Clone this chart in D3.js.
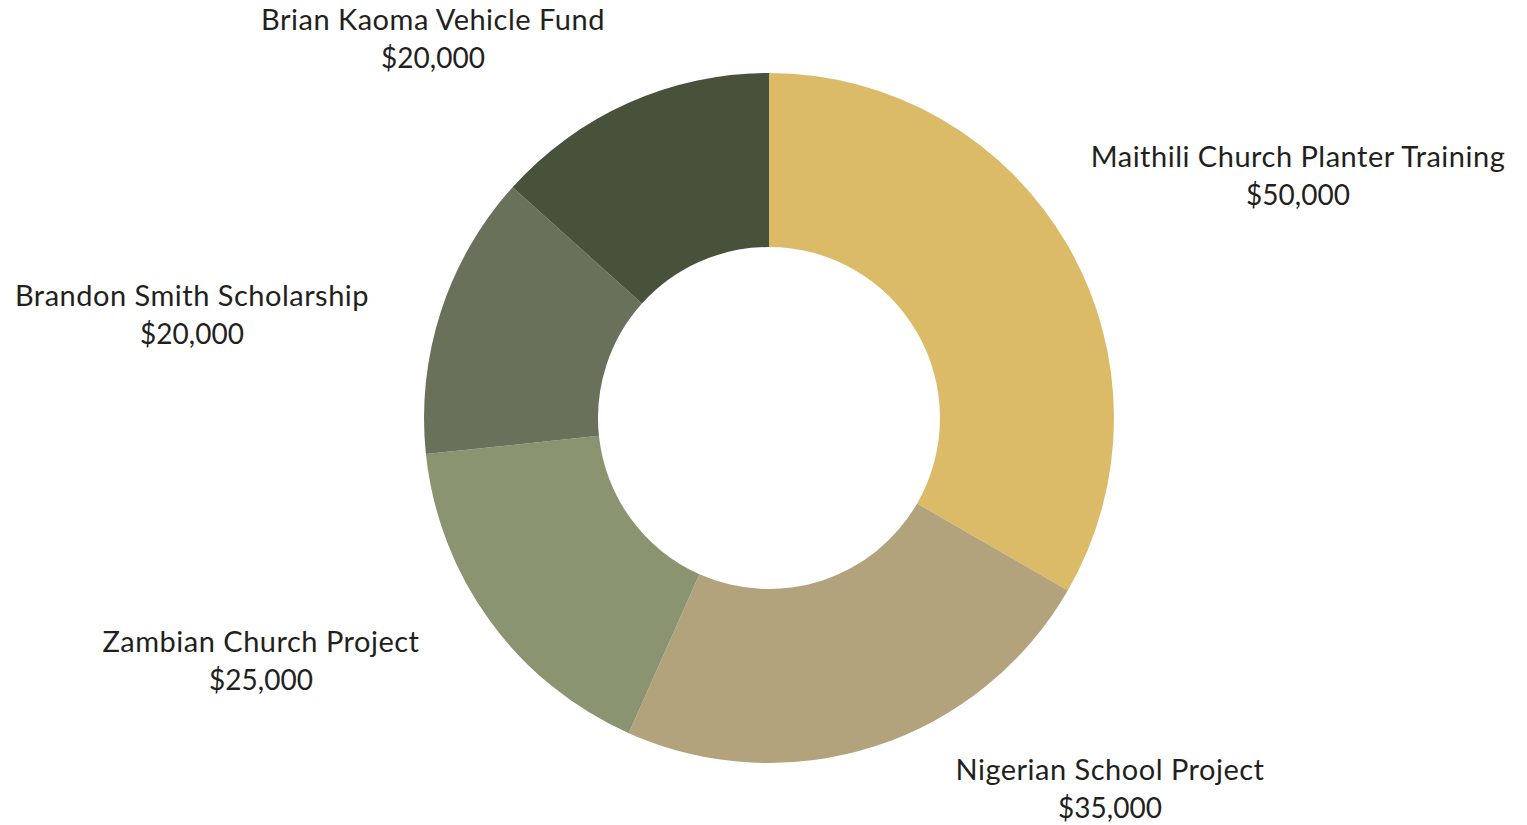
<!DOCTYPE html>
<html>
<head>
<meta charset="utf-8">
<script src="https://cdn.jsdelivr.net/npm/d3@7"></script>
<style>
    html, body { margin: 0; padding: 0; background: #fff; }
    text { font-family: "Lato", "Open Sans", sans-serif; fill: #231f20; }
</style>
</head>
<body>
<svg id="chart" width="1527" height="825"></svg>
<script>
const projects = ["Maithili Church Planter Training", "Nigerian School Project", "Zambian Church Project", "Brandon Smith Scholarship", "Brian Kaoma Vehicle Fund"]
const amounts = [50000, 35000, 25000, 20000, 20000]
const colors = ["#dbbb67", "#b2a37d", "#8a9470", "#6a715a", "#48523b"]

// label anchors (centre x, first baseline y)
const labelSpots = [[1298, 167], [1110, 780], [261, 652], [192, 306], [433, 30]]

const cx = 769
const cy = 418
const outerRadius = 345
const innerRadius = 171

const svg = d3.select("#chart")

const createPie = d3.pie().value(d => d).sort(null)
const createArc = d3.arc().innerRadius(innerRadius).outerRadius(outerRadius)

const g = svg.append("g").attr("transform", `translate(${cx}, ${cy})`)

g.selectAll("path.arc")
    .data(createPie(amounts))
    .enter()
    .append("path")
    .attr("class", "arc")
    .attr("d", createArc)
    .attr("fill", (d, i) => colors[i])

const fmt = d3.format("$,")

const labels = svg.selectAll("text.label")
    .data(projects)
    .enter()
    .append("text")
    .attr("class", "label")
    .attr("text-anchor", "middle")
    .attr("font-size", 28)

labels.append("tspan")
    .attr("x", (d, i) => labelSpots[i][0])
    .attr("y", (d, i) => labelSpots[i][1])
    .attr("font-size", 29)
    .attr("letter-spacing", 0.5)
    .text(d => d)

labels.append("tspan")
    .attr("x", (d, i) => labelSpots[i][0])
    .attr("y", (d, i) => labelSpots[i][1] + 38)
    .text((d, i) => fmt(amounts[i]))
</script>
</body>
</html>
